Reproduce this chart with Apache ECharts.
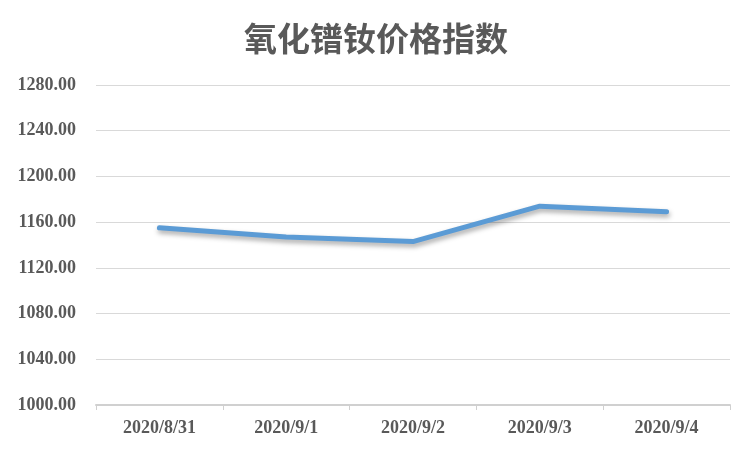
<!DOCTYPE html>
<html><head><meta charset="utf-8">
<script src="https://cdn.jsdelivr.net/npm/echarts@6/dist/echarts.min.js"></script>
<style>html,body{margin:0;padding:0;background:#fff}#c{width:752px;height:451px}</style>
</head><body><div id="c"></div>
<script>
const categories = ['2020/8/31','2020/9/1','2020/9/2','2020/9/3','2020/9/4'];
const values = [1155, 1147, 1143, 1174, 1169];
const chartTitle = '氧化镨钕价格指数';
const chart = echarts.init(document.getElementById('c'));
chart.setOption({
  animation:false,
  backgroundColor:'#fff',
  title:{text:chartTitle,left:'center',top:17,textStyle:{fontFamily:'Noto Sans CJK SC',fontSize:33,fontWeight:'bold',color:'#595959'}},
  grid:{left:96,right:22,top:85,bottom:46},
  xAxis:{type:'category',data:categories,boundaryGap:true,
    axisLine:{lineStyle:{color:'#d0d0d0',width:2}},
    axisTick:{show:true,alignWithLabel:false,lineStyle:{color:'#d0d0d0'},length:5},
    axisLabel:{color:'#595959',fontFamily:'Liberation Serif',fontWeight:'bold',fontSize:18,margin:14}},
  yAxis:{type:'value',min:1000,max:1280,interval:40,
    axisLine:{show:false},axisTick:{show:false},
    splitLine:{lineStyle:{color:'#d9d9d9',width:1}},
    axisLabel:{color:'#595959',fontFamily:'Liberation Serif',fontWeight:'bold',fontSize:18,margin:20,formatter:v=>v.toFixed(2)}},
  series:[{type:'line',data:values,symbol:'none',
    lineStyle:{color:'#5b9bd5',width:5,cap:'round',join:'round',shadowColor:'rgba(0,0,0,0.35)',shadowBlur:5,shadowOffsetY:3,shadowOffsetX:1}}]
});
</script></body></html>
